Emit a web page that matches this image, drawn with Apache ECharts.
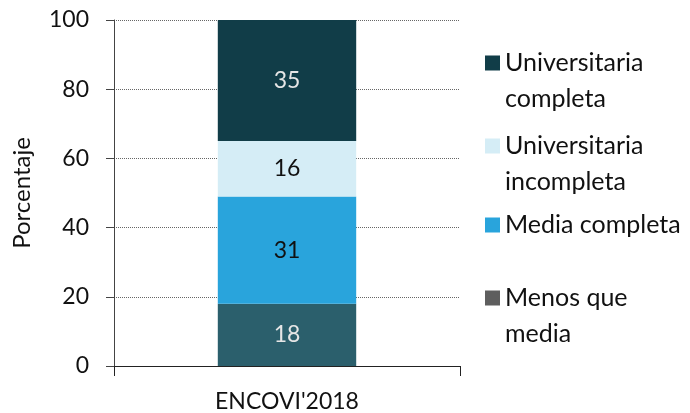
<!DOCTYPE html>
<html>
<head>
<meta charset="utf-8">
<script src="https://cdn.jsdelivr.net/npm/echarts@6/dist/echarts.min.js"></script>
<style>
html,body{margin:0;padding:0;background:#fff;}
#chart{width:690px;height:413px;}
</style>
</head>
<body>
<div id="chart"></div>
<script>
const categories = ["ENCOVI'2018"];
const seriesNames = ["Menos que media", "Media completa", "Universitaria incompleta", "Universitaria completa"];
const menosQueMedia = [18];
const mediaCompleta = [31];
const univIncompleta = [16];
const univCompleta = [35];
const yTicks = [0, 20, 40, 60, 80, 100];

const FONT = 'Lato';
const colors = {
  "Menos que media": '#2b5f6c',
  "Media completa": '#29a4dc',
  "Universitaria incompleta": '#d5edf6',
  "Universitaria completa": '#113d48'
};
const labelColors = {
  "Menos que media": '#e6e6e6',
  "Media completa": '#111',
  "Universitaria incompleta": '#111',
  "Universitaria completa": '#e6e6e6'
};
const legendText = {
  "Menos que media": 'Menos que\nmedia',
  "Media completa": 'Media completa',
  "Universitaria incompleta": 'Universitaria\nincompleta',
  "Universitaria completa": 'Universitaria\ncompleta'
};
const legendMarker = {
  "Menos que media": '#5e5e5e',
  "Media completa": '#29a4dc',
  "Universitaria incompleta": '#d5edf6',
  "Universitaria completa": '#113d48'
};
const values = [menosQueMedia, mediaCompleta, univIncompleta, univCompleta];

const tallIcon = 'path://M0,0L15,0L15,15L0,15Z M0,51L0.01,51';
const legendTops = {
  "Universitaria completa": 45,
  "Universitaria incompleta": 128,
  "Media completa": 207,
  "Menos que media": 280
};

const chart = echarts.init(document.getElementById('chart'), null, {renderer: 'canvas'});
const option = {
  animation: false,
  backgroundColor: '#fff',
  grid: {left: 114, right: 230, top: 20, bottom: 46, containLabel: false},
  xAxis: {
    type: 'category',
    data: categories,
    axisLine: {show: true, lineStyle: {color: '#222', width: 1}},
    axisTick: {show: true, length: 10, lineStyle: {color: '#222'}},
    axisLabel: {fontFamily: FONT, fontSize: 23, color: '#111', margin: 24}
  },
  yAxis: {
    type: 'value',
    min: yTicks[0],
    max: yTicks[yTicks.length - 1],
    interval: yTicks[1] - yTicks[0],
    name: 'Porcentaje',
    nameLocation: 'middle',
    nameGap: 80,
    nameTextStyle: {fontFamily: FONT, fontSize: 24, color: '#111'},
    axisLine: {show: true, lineStyle: {color: '#444', width: 1}},
    axisTick: {show: true, length: 8, lineStyle: {color: '#444'}},
    axisLabel: {fontFamily: FONT, fontSize: 23, color: '#111', margin: 25},
    splitLine: {show: true, lineStyle: {type: 'dotted', color: '#666', width: 1}}
  },
  legend: seriesNames.map(name => ({
    data: [{name: name, itemStyle: {color: legendMarker[name], borderWidth: 0}}],
    left: 485,
    top: legendTops[name],
    padding: 0,
    orient: 'vertical',
    itemWidth: 15,
    itemHeight: legendText[name].indexOf('\n') >= 0 ? 51 : 15,
    icon: legendText[name].indexOf('\n') >= 0 ? tallIcon : 'rect',
    selectedMode: false,
    formatter: n => legendText[n],
    textStyle: {fontFamily: FONT, fontSize: 25, color: '#111', lineHeight: 36}
  })),
  series: seriesNames.map((name, i) => ({
    name: name,
    type: 'bar',
    stack: 'total',
    barWidth: '40%',
    data: values[i],
    itemStyle: {color: colors[name]},
    label: {
      show: true,
      position: 'inside',
      fontFamily: FONT,
      fontSize: 23,
      color: labelColors[name]
    }
  }))
};
chart.setOption(option);
</script>
</body>
</html>
